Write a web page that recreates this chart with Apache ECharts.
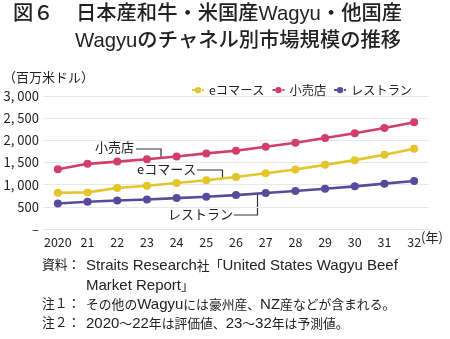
<!DOCTYPE html>
<html><head><meta charset="utf-8">
<script src="https://cdn.jsdelivr.net/npm/echarts@6/dist/echarts.min.js"></script>
<style>html,body{margin:0;padding:0;background:#fff}#c{width:450px;height:339px}</style>
</head><body><div id="c"></div>
<script>
const categories = ['2020','21','22','23','24','25','26','27','28','29','30','31','32'];
const ecommerce = [818, 826, 924, 977, 1038, 1098, 1174, 1258, 1341, 1447, 1553, 1674, 1811];
const retail = [1347, 1470, 1520, 1575, 1635, 1705, 1765, 1856, 1947, 2053, 2159, 2280, 2410];
const restaurant = [576, 614, 644, 667, 697, 727, 765, 811, 856, 909, 962, 1023, 1083];
const seriesNames = ['eコマース', '小売店', 'レストラン'];
const colors = ['#E3C52C', '#D03F68', '#5B4A9B'];
const yTicks = [0, 500, 1000, 1500, 2000, 2500, 3000];

const FONT = '"Noto Sans CJK JP", "Noto Sans", sans-serif';
const LFONT = '"Liberation Sans", "Noto Sans CJK JP", sans-serif';
const chart = echarts.init(document.getElementById('c'), null, {renderer: 'canvas'});
const t = (x, y, s, font) => ({type: 'text', left: x, top: y, style: {text: s, font: font, fill: '#222'}});
const leader = (pts) => ({type: 'polyline', shape: {points: pts}, style: {stroke: '#333', lineWidth: 1.2, fill: null}});
// mixed Latin / CJK footnote text as rich text
const richText = (s) => s.match(/[\x20-\x7E]+|[^\x20-\x7E]+/g)
  .map(run => (/^[\x20-\x7E]/.test(run) ? '{l|' : '{c|') + run + '}').join('');
const note = (x, y, s) => ({
  type: 'text', left: x, top: y,
  style: {
    text: richText(s), fill: '#222',
    rich: {
      l: {fontFamily: '"Liberation Sans", sans-serif', fontSize: 15, fill: '#222', height: 18},
      c: {fontFamily: '"Noto Sans CJK JP", sans-serif', fontSize: 12.8, fill: '#222', height: 18}
    }
  }
});

const mk = (name, data, color) => ({
  name, type: 'line', data,
  symbol: 'circle', symbolSize: 8,
  lineStyle: {color, width: 2.6},
  itemStyle: {color},
  emphasis: {disabled: true}
});

const TF = '500 20.3px ' + LFONT;
const NF = 'normal 13px ' + FONT;

chart.setOption({
  animation: false,
  textStyle: {fontFamily: FONT},
  color: colors,
  grid: {left: 43, right: 21, top: 96, bottom: 110},
  legend: {
    right: 33, top: 79, itemWidth: 12, itemHeight: 8, itemGap: 7,
    textStyle: {fontSize: 12.2, color: '#222', fontFamily: FONT},
    lineStyle: {type: [3, 2]},
    data: seriesNames
  },
  xAxis: {
    type: 'category', data: categories, boundaryGap: true,
    axisLine: {show: true, lineStyle: {color: '#e6e6e6'}},
    axisTick: {show: false},
    axisLabel: {fontSize: 12.5, color: '#222', margin: 7, interval: 0, fontFamily: FONT}
  },
  yAxis: {
    type: 'value', min: yTicks[0], max: yTicks[yTicks.length - 1], interval: yTicks[1] - yTicks[0],
    axisLine: {show: false}, axisTick: {show: false},
    splitLine: {lineStyle: {color: '#e8e8e8', width: 1}},
    axisLabel: {
      fontSize: 13, color: '#222', margin: 4, fontFamily: FONT,
      formatter: v => v === 0 ? '–' : echarts.format.addCommas(v).replace(',', ', ')
    }
  },
  series: [mk(seriesNames[0], ecommerce, colors[0]), mk(seriesNames[1], retail, colors[1]), mk(seriesNames[2], restaurant, colors[2])],
  graphic: [
    t(13, 4, '図６', TF),
    t(76, 4, '日本産和牛・米国産Wagyu・他国産', TF),
    t(75, 31, 'Wagyuのチャネル別市場規模の推移', TF),
    t(3, 71, '（百万米ドル）', NF),
    t(421, 231, '(年)', NF),
    t(95, 141, '小売店', NF),
    t(137, 163, 'eコマース', NF),
    t(168, 208, 'レストラン', NF),
    leader([[136, 149], [161, 149], [161, 157]]),
    leader([[197, 170], [222.5, 170], [222.5, 178]]),
    leader([[234, 215], [257.5, 215], [257.5, 194]]),
    note(42, 258, '資料：'),
    note(86, 258, 'Straits Research社「United States Wagyu Beef'),
    note(86, 278, 'Market Report」'),
    note(42, 297, '注１：'),
    note(86, 297, 'その他のWagyuには豪州産、NZ産などが含まれる。'),
    note(42, 316, '注２：'),
    note(86, 316, '2020～22年は評価値、23～32年は予測値。')
  ]
});
</script></body></html>
